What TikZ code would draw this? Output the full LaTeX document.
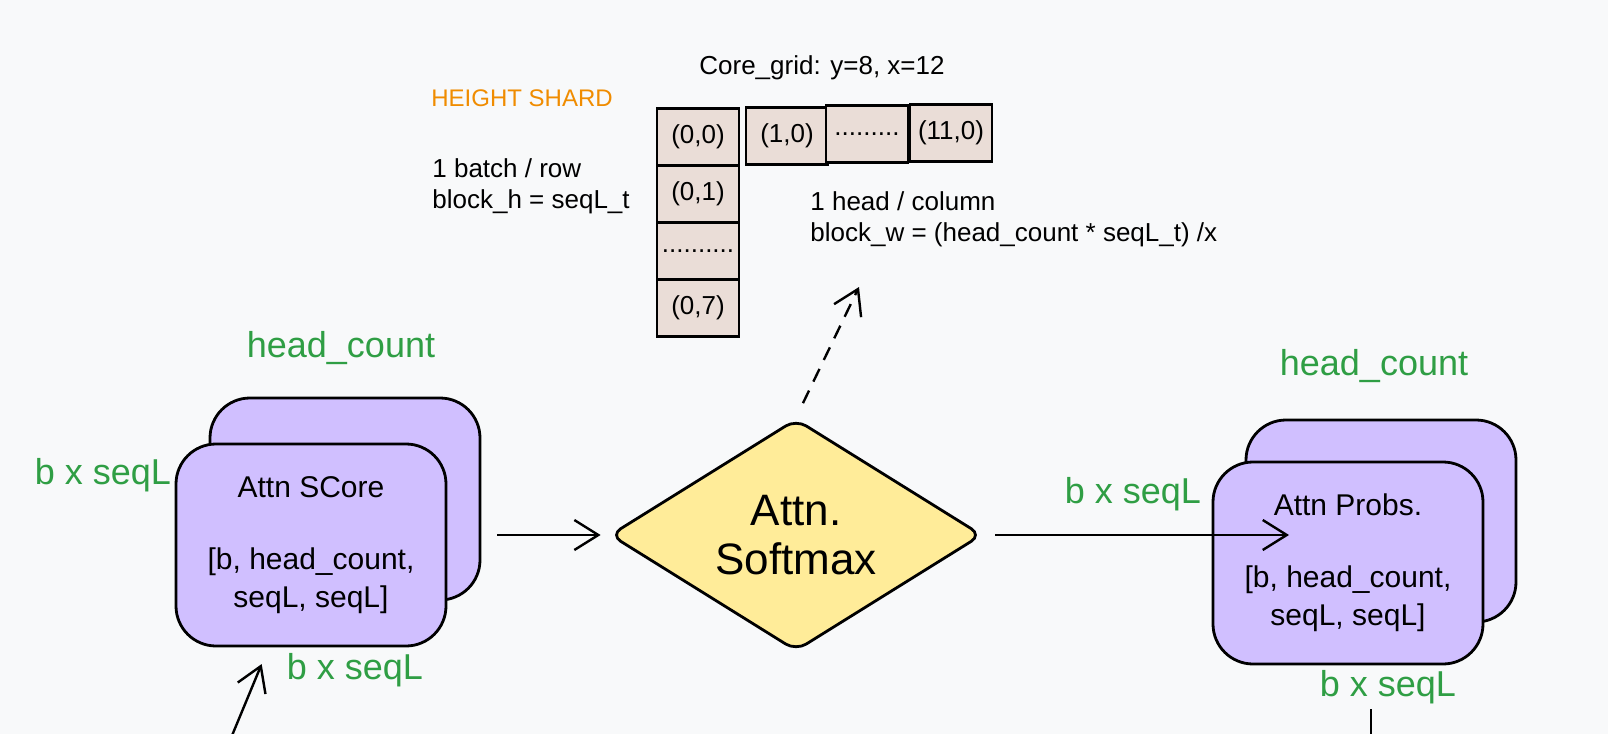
\documentclass[tikz,border=0pt]{standalone}
\usepackage{fontspec}
\setmainfont{Liberation Sans}
\usepackage{tikz}
\usetikzlibrary{shapes.geometric}
\usetikzlibrary{arrows.meta}
\definecolor{canvas}{HTML}{F8F9FA}
\definecolor{tensorfill}{HTML}{D0BFFF}
\definecolor{opfill}{HTML}{FFEC99}
\definecolor{corefill}{HTML}{EADDD7}
\definecolor{dimgreen}{HTML}{2F9E44}
\definecolor{shardorange}{HTML}{F08C00}
\tikzset{
    core/.style={shape=rectangle, draw=black, fill=corefill, line width=1.4pt,
        minimum width=41pt, minimum height=28.5pt, inner sep=0pt,
        font=\fontsize{13}{15}\selectfont},
    tensor/.style={shape=rectangle, rounded corners=20pt, draw=black, fill=tensorfill,
        line width=1.4pt, minimum width=135pt, minimum height=101pt, inner sep=0pt,
        align=center, font=\fontsize{15}{19}\selectfont},
    dimlabel/.style={text=dimgreen, font=\fontsize{18}{20}\selectfont},
    notetext/.style={anchor=west, inner sep=0pt, align=left, font=\fontsize{13}{15.5}\selectfont},
    flow/.style={-{Straight Barb[length=12pt, width=15pt]}, line width=1.2pt}}

\begin{document}
\begin{tikzpicture}[x=0.5pt, y=-0.5pt]

            \fill[canvas] (0,0) rectangle (1608,734);
            \useasboundingbox (0,0) rectangle (1608,734);

            \node[font=\fontsize{13}{15}\selectfont] (gridtitle) at (822,68) {Core\_grid: y=8, x=12};
            \node[anchor=west, inner sep=0pt, text=shardorange, font=\fontsize{12}{14}\selectfont] (shard) at (431,98) {HEIGHT SHARD};
            \node[notetext] (rownote) at (432,186) {1 batch / row\\block\_h = seqL\_t};
            \node[notetext] (colnote) at (810,219) {1 head / column\\block\_w = (head\_count * seqL\_t) /x};

            \node[core] (c00) at (698,137) {(0,0)};
            \node[core] (c10) at (787,136) {(1,0)};
            \node[core] (crow) at (867,134) {.........};
            \node[core] (c110) at (951,133) {(11,0)};
            \node[core] (c01) at (698,194) {(0,1)};
            \node[core] (ccol) at (698,251) {..........};
            \node[core] (c07) at (698,308) {(0,7)};

            \node[tensor] (scoreback) at (345,499) {};
            \node[tensor] (score) at (311,545) {Attn SCore\\[17pt]{[}b, head\_count,\\seqL, seqL{]}};
            \node[dimlabel] (scorehc) at (341,348) {head\_count};
            \node[dimlabel] (scoreleft) at (103,475) {b x seqL};
            \node[dimlabel] (scorebottom) at (355,670) {b x seqL};

            \node[shape=diamond, aspect=2, draw=black, fill=opfill, line width=1.4pt, minimum width=186pt, minimum height=116pt,
                inner sep=0pt, rounded corners=6pt, align=center, font=\fontsize{22}{24.5}\selectfont] (softmax) at (796,535) {Attn.\\Softmax};

            \node[tensor] (probsback) at (1381,521) {};
            \node[tensor] (probs) at (1348,563) {Attn Probs.\\[17pt]{[}b, head\_count,\\seqL, seqL{]}};
            \node[dimlabel] (probshc) at (1374,366) {head\_count};
            \node[dimlabel] (probsleft) at (1133,494) {b x seqL};
            \node[dimlabel] (probsbottom) at (1388,687) {b x seqL};

            \coordinate (scorein) at (231,738);
            \coordinate (gridpt) at (859,287);
            \coordinate (probsin) at (1289,535);
            \coordinate (probsout) at (1371,738);

            \draw[flow, shorten >=9pt] (scorein) -- (score);
            \draw[flow, shorten <=8pt, shorten >=4pt] (scoreback.east |- softmax.west) -- (softmax.west);
            \draw[flow, shorten <=6pt] (softmax.east) -- (probsin);
            \draw[flow, dash pattern=on 7pt off 5pt, shorten <=8pt] (softmax.north) -- (gridpt);
            \draw[line width=1.2pt, shorten <=22pt] (probs.south -| probsout) -- (probsout);

        \end{tikzpicture}
\end{document}
